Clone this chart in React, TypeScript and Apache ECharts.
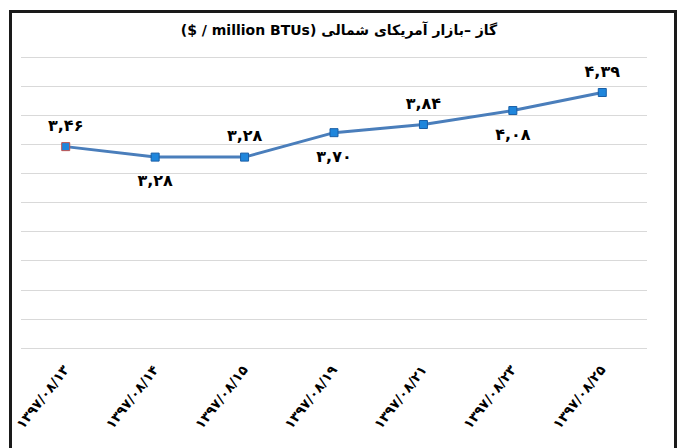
import React, { useEffect, useRef } from "react";
import * as echarts from "echarts";

const titleText = "($ / million BTUs) گاز –بازار آمریکای شمالی";
const categories = [
  "۱۳۹۷/۰۸/۱۳",
  "۱۳۹۷/۰۸/۱۴",
  "۱۳۹۷/۰۸/۱۵",
  "۱۳۹۷/۰۸/۱۹",
  "۱۳۹۷/۰۸/۲۱",
  "۱۳۹۷/۰۸/۲۳",
  "۱۳۹۷/۰۸/۲۵",
];
const prices = [3.46, 3.28, 3.28, 3.7, 3.84, 4.08, 4.39];
const labelSides = ["top", "bottom", "top", "bottom", "top", "bottom", "top"];

const faDigits = "۰۱۲۳۴۵۶۷۸۹";
const toFa = (v: number) =>
  v
    .toFixed(2)
    .replace(".", ",")
    .replace(/[0-9]/g, (d) => faDigits[Number(d)]);

export default function App() {
  const ref = useRef<HTMLDivElement>(null);
  useEffect(() => {
    if (!ref.current) return;
    const chart = echarts.init(ref.current, null, { renderer: "svg" });
    const fa = "DejaVu Sans";
    chart.setOption({
      animation: false,
      backgroundColor: "#ffffff",
      title: {
        text: titleText,
        left: "center",
        top: 18,
        textStyle: { fontFamily: fa, fontSize: 14, fontWeight: "bold", color: "#000" },
      },
      grid: { left: 21, right: 31, top: 57, bottom: 100, containLabel: false },
      xAxis: {
        type: "category",
        data: categories,
        boundaryGap: true,
        axisLine: { show: false },
        axisTick: { show: false },
        axisLabel: {
          rotate: 52,
          margin: 19,
          interval: 0,
          fontFamily: fa,
          fontSize: 13.5,
          fontWeight: "bold",
          color: "#000",
        },
      },
      yAxis: {
        type: "value",
        min: 0,
        max: 5,
        interval: 0.5,
        axisLabel: { show: false },
        axisLine: { show: false },
        axisTick: { show: false },
        splitLine: { lineStyle: { color: "#d9d9d9", width: 1 } },
      },
      series: [
        {
          type: "line",
          data: prices.map((v, i) => ({
            value: v,
            label: {
              position: labelSides[i],
              distance: labelSides[i] === "top" ? 9 : 11,
            },
            itemStyle:
              i === 0 ? { borderColor: "#c0504d", borderWidth: 1 } : undefined,
          })),
          symbol: "rect",
          symbolSize: 8,
          lineStyle: { color: "#4a7ebb", width: 3 },
          itemStyle: { color: "#1f86dc", borderColor: "#1b5fa6", borderWidth: 1 },
          label: {
            show: true,
            formatter: (p: any) => toFa(p.value),
            fontFamily: fa,
            fontSize: 16,
            fontWeight: "bold",
            color: "#000",
          },
        },
      ],
      graphic: [
        {
          type: "rect",
          shape: { x: 10.5, y: 11.5, width: 665, height: 480 },
          style: { fill: "none", stroke: "#1a1a1a", lineWidth: 3 },
          silent: true,
        },
      ],
    });
    return () => chart.dispose();
  }, []);
  return (
    <div
      ref={ref}
      style={{ position: "absolute", left: 0, top: 0, width: 678, height: 448 }}
    />
  );
}
